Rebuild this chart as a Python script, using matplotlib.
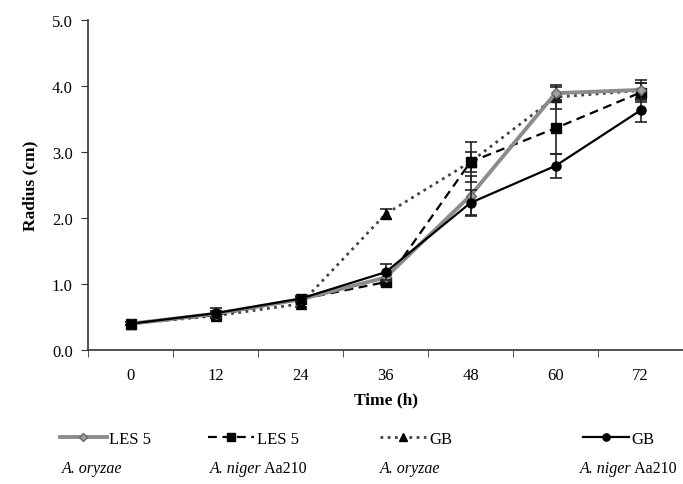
import matplotlib.pyplot as plt
from matplotlib.lines import Line2D
import numpy as np

plt.rcParams['font.family'] = ['Liberation Serif', 'DejaVu Serif']

# Data
time_labels = ['0', '12', '24', '36', '48', '60', '72']

les5_oryzae = [0.40, 0.55, 0.77, 1.10, 2.34, 3.89, 3.94]
les5_oryzae_err = [0.02, 0.05, 0.04, 0.05, 0.30, 0.10, 0.15]

les5_niger = [0.40, 0.53, 0.77, 1.03, 2.85, 3.36, 3.90]
les5_niger_err = [0.02, 0.04, 0.04, 0.04, 0.30, 0.39, 0.15]

gb_oryzae = [0.40, 0.52, 0.70, 2.06, 2.85, 3.83, 3.93]
gb_oryzae_err = [0.02, 0.04, 0.04, 0.08, 0.15, 0.18, 0.12]

gb_niger = [0.40, 0.56, 0.78, 1.18, 2.23, 2.79, 3.63]
gb_niger_err = [0.02, 0.08, 0.04, 0.12, 0.20, 0.18, 0.17]

series_names = ['LES 5', 'LES 5', 'GB', 'GB']
species = ['A. oryzae', 'A. niger', 'A. oryzae', 'A. niger']
strain_suffix = ['', ' Aa210', '', ' Aa210']

fig = plt.figure(figsize=(6.83, 4.85), dpi=100)
ax = fig.add_axes([0.129, 0.276, 0.871, 0.681])

x = np.arange(len(time_labels))
eb = dict(elinewidth=1.2, capsize=4, capthick=1.2, ecolor='#222222')

styles = [
    dict(color='#8c8c8c', lw=2.8, ls='-', marker='D', ms=5, mfc='#a0a0a0', mec='#666666'),
    dict(color='black', lw=1.6, ls=(0, (4, 2.5)), marker='s', ms=6.5, mfc='black', mec='black'),
    dict(color='#444444', lw=2.0, ls=(0, (1, 1.6)), marker='^', ms=7, mfc='black', mec='black'),
    dict(color='black', lw=1.6, ls='-', marker='o', ms=6.5, mfc='black', mec='black'),
]
all_vals = [les5_oryzae, les5_niger, gb_oryzae, gb_niger]
all_errs = [les5_oryzae_err, les5_niger_err, gb_oryzae_err, gb_niger_err]
zorders = [4, 3, 2, 5]

for vals, errs, st, z in zip(all_vals, all_errs, styles, zorders):
    ax.errorbar(x, vals, yerr=errs, zorder=z, **st, **eb)

ax.set_xlim(-0.5, 6.42)
ax.set_ylim(0, 5.0)
ax.set_yticks(np.arange(0, 5.01, 1.0))
ax.set_yticklabels([f'{v:.1f}' for v in np.arange(0, 5.01, 1.0)])
ax.set_xticks(x)
ax.set_xticklabels(time_labels)
ax.set_xticks(np.arange(-0.5, 7, 1), minor=True)
ax.tick_params(axis='x', which='major', length=0, pad=12, labelsize=12)
ax.tick_params(axis='x', which='minor', length=5, direction='out', color='#333333')
ax.tick_params(axis='y', length=5, direction='out', color='#333333', labelsize=12, pad=6)

for s in ['top', 'right']:
    ax.spines[s].set_visible(False)
for s in ['left', 'bottom']:
    ax.spines[s].set_color('#333333')
    ax.spines[s].set_linewidth(1.2)

ax.set_xlabel('Time (h)', fontsize=12.5, fontweight='bold', labelpad=6)
ax.set_ylabel('Radius (cm)', fontsize=12.5, fontweight='bold', labelpad=10)

# Legend: one small legend per series, species names underneath
leg_x = [0.088, 0.304, 0.556, 0.853]
sp_x = [0.090, 0.307, 0.556, 0.849]
for lx, st, name in zip(leg_x, styles, series_names):
    st_leg = dict(st, ms=st['ms'] * 0.8)
    h = Line2D([], [], **st_leg)
    fig.legend([h], [name], loc='center left', bbox_to_anchor=(lx, 0.093),
               frameon=False, fontsize=12, handlelength=2.8, handletextpad=0.15,
               borderaxespad=0, borderpad=0)

for xs, sp, suf in zip(sp_x, species, strain_suffix):
    t = fig.text(xs, 0.032, sp, fontsize=11.5, style='italic', ha='left', va='center')
    if suf:
        ax.annotate(suf, xy=(1, 0.5), xycoords=t, fontsize=11.5, ha='left', va='center')

plt.savefig('out.png', dpi=100, facecolor='white')
